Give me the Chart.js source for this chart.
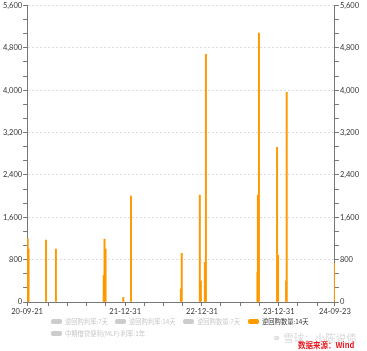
<!DOCTYPE html>
<html>
<head>
<meta charset="utf-8">
<script src="https://cdn.jsdelivr.net/npm/chart.js@4.4.0/dist/chart.umd.min.js"></script>
<style>
  body { margin: 0; background: #fff; }
  #wrap { position: relative; width: 367px; height: 351px; }
  .legend { position: absolute; font-family: "Noto Sans CJK SC", sans-serif; font-size: 6.3px; line-height: 9px; white-space: nowrap; }
  .legend i { display: inline-block; width: 11px; height: 5px; border-radius: 2px; margin-right: 3px; vertical-align: 0px; }
  .mark { position: absolute; font-family: "Noto Sans CJK SC", sans-serif; white-space: nowrap; }
</style>
</head>
<body>
<div id="wrap">
  <canvas id="repoChart" width="367" height="351"></canvas>
  <div id="legend"></div>
  <div class="mark" style="left:272px;top:330px;font-size:10.5px;color:#d9d9d9;">&#9901; 雪球：小陈说债</div>
  <div class="mark" style="left:298px;top:339px;font-size:7.5px;color:#e5161c;font-weight:bold;">数据来源：Wind</div>
</div>
<script>
// Reverse repo 14-day volumes (100m yuan)
const repoDates = ['2020-09-24', '2020-09-28', '2020-12-20', '2021-02-05', '2021-09-20', '2021-09-24',
    '2021-09-29', '2021-12-22', '2022-01-28', '2022-09-22', '2022-09-26', '2022-12-21', '2022-12-26',
    '2023-01-14', '2023-01-19', '2023-09-21', '2023-09-23', '2023-09-28', '2023-12-23', '2023-12-28',
    '2024-02-04', '2024-02-07', '2024-09-23'];
const repoValues = [1200, 1000, 1170, 1000, 500, 1190, 1000, 90, 2000, 250, 920, 2020, 400,
    750, 4680, 560, 2020, 5080, 2920, 880, 400, 3960, 730];

// x axis labels and quarter tick marks
const startDate = '2020-09-21';
const endDate = '2024-09-23';
const xLabels = ['20-09-21', '21-12-31', '22-12-31', '23-12-31', '24-09-23'];
const xLabelDates = ['2020-09-21', '2021-12-31', '2022-12-31', '2023-12-31', '2024-09-23'];
const xTickDates = ['2020-09-21', '2020-12-31', '2021-03-31', '2021-06-30', '2021-09-30', '2021-12-31',
    '2022-03-31', '2022-06-30', '2022-09-30', '2022-12-31', '2023-03-31', '2023-06-30', '2023-09-30',
    '2023-12-31', '2024-03-31', '2024-06-30', '2024-09-23'];

const yMax = 5600;
const yStep = 800;

const legendNames = ['逆回购利率:7天', '逆回购利率:14天', '逆回购数量:7天', '逆回购数量:14天', '中期借贷便利(MLF):利率:1年'];
const legendColors = ['#cccccc', '#cccccc', '#cccccc', '#ff9900', '#cccccc'];
const legendActive = [false, false, false, true, false];

// days since the first date
function dayOf(s) {
    return Math.round((Date.parse(s) - Date.parse(startDate)) / 86400000);
}

const xLabelDays = xLabelDates.map(dayOf);
const points = repoDates.map((d, i) => ({ x: dayOf(d), y: repoValues[i] }));

function isMajor(v) {
    return Math.abs(v / yStep - Math.round(v / yStep)) < 0.01;
}

function yTicks(axis) {
    let list = [];
    for (let i = 0; i <= yMax / yStep * 3; i++) {
        list.push({ value: i * yStep / 3 });
    }
    axis.ticks = list;
}

function yAxis(pos, onArea) {
    return {
        position: pos,
        min: 0,
        max: yMax,
        afterBuildTicks: yTicks,
        ticks: {
            autoSkip: false,
            padding: 1,
            color: '#333',
            font: { size: 7.5, family: 'Lato, sans-serif' },
            callback: v => isMajor(v) ? Math.round(v).toLocaleString('en-US') : ''
        },
        grid: {
            drawOnChartArea: onArea,
            tickLength: 4,
            color: ctx => (ctx.tick && isMajor(ctx.tick.value) && ctx.tick.value > 0) ? '#dddddd' : 'rgba(0,0,0,0)',
            tickColor: '#777'
        },
        border: { color: '#777', dash: [2, 2] }
    };
}

new Chart(document.getElementById('repoChart'), {
    type: 'bar',
    data: {
        datasets: [{
            label: '逆回购数量:14天',
            data: points,
            backgroundColor: '#ff9900',
            barThickness: 1.3,
            yAxisID: 'y'
        }]
    },
    options: {
        responsive: false,
        animation: false,
        layout: { padding: { left: 2, right: 7, top: 3, bottom: 34 } },
        plugins: { legend: { display: false }, tooltip: { enabled: false } },
        scales: {
            x: {
                type: 'linear',
                min: 0,
                max: dayOf(endDate),
                offset: false,
                afterBuildTicks: axis => { axis.ticks = xTickDates.map(d => ({ value: dayOf(d) })); },
                ticks: {
                    autoSkip: false,
                    maxRotation: 0,
                    padding: 1,
                    color: '#333',
                    font: { size: 7.5, family: 'Lato, sans-serif' },
                    callback: v => {
                        const k = xLabelDays.indexOf(v);
                        return k >= 0 ? xLabels[k] : '';
                    }
                },
                grid: { drawOnChartArea: false, offset: false, tickLength: 4, color: '#777' },
                border: { color: '#777' }
            },
            y: yAxis('left', true),
            y1: yAxis('right', false)
        }
    }
});

// legend below the chart: four items on the first row, one on the second
const legendPos = [[51, 317], [115, 317], [183, 317], [248, 317], [51, 329]];
const legendBox = document.getElementById('legend');
legendNames.forEach((name, i) => {
    const el = document.createElement('div');
    el.className = 'legend';
    el.style.left = legendPos[i][0] + 'px';
    el.style.top = legendPos[i][1] + 'px';
    el.style.color = legendActive[i] ? '#333' : '#c8c8c8';
    el.innerHTML = '<i style="background:' + legendColors[i] + '"></i>' + name;
    legendBox.appendChild(el);
});
</script>
</body>
</html>
